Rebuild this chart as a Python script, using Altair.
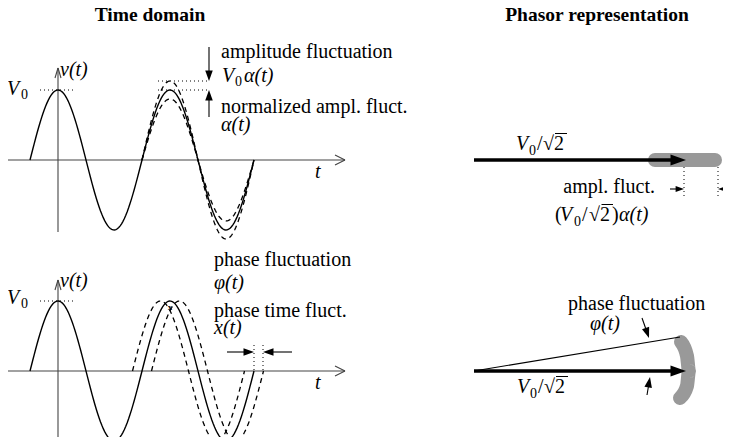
import altair as alt
import numpy as np
import pandas as pd

W, H = 715, 429
X0, Y0 = 8, 8  # page margin: data given in page-pixel units

# ---- sine curves: (name, style, axis_y, phase_start_x, period, amplitude, x_from, x_to)
curve_name = ["top_solid", "top_dash_hi", "top_dash_lo", "bot_solid", "bot_dash_l", "bot_dash_r"]
curve_style = ["solid", "dash", "dash", "solid", "dash", "dash"]
curve_axis_y = [160, 160, 160, 371, 371, 371]
curve_x0 = [30, 30, 30, 30, 20.5, 39.5]
curve_period = [112, 112, 112, 112, 112, 112]
curve_amp = [70, 79, 61, 70, 70, 70]
curve_from = [30, 142, 142, 30, 132.5, 151.5]
curve_to = [254, 254, 254, 254, 244.5, 263.5]

rows = []
for n, s, ay, x0, p, a, xa, xb in zip(curve_name, curve_style, curve_axis_y, curve_x0,
                                        curve_period, curve_amp, curve_from, curve_to):
    xs = np.linspace(xa, xb, 160)
    for i, xv in enumerate(xs):
        rows.append({"id": n, "style": s, "i": i, "x": xv,
                     "y": ay - a * np.sin(2 * np.pi * (xv - x0) / p)})
curves = pd.DataFrame(rows)

# ---- straight segments: kind, x, y, x2, y2
seg_kind = (["axis"] * 12 + ["dot"] * 8 + ["thin"] * 9 + ["thick"] * 2)
seg_x = [7, 58, 335, 335, 55, 61, 7, 58, 335, 335, 55, 61,
         40, 158, 158, 40, 254, 263, 684, 718,
         209, 209, 227, 292, 670, 723, 642, 647, 474,
         474, 474]
seg_y = [160, 68, 155, 165, 78, 78, 371, 280, 366, 376, 290, 290,
         90, 81, 90, 301, 345, 345, 167, 167,
         47, 117, 352, 352, 189, 189, 318, 395, 371,
         160, 371]
seg_x2 = [345, 58, 345, 345, 58, 58, 345, 58, 345, 345, 58, 58,
          73, 209, 209, 73, 254, 263, 684, 718,
          209, 209, 250, 267, 680, 722, 648, 649.5, 680,
          676, 676]
seg_y2 = [160, 232, 160, 160, 68, 68, 371, 441, 371, 371, 280, 280,
          90, 81, 90, 301, 371, 371, 197, 197,
          78, 93, 352, 352, 189, 189, 335, 380, 337,
          160, 371]
segs = pd.DataFrame({"kind": seg_kind, "x": seg_x, "y": seg_y, "x2": seg_x2, "y2": seg_y2})

# ---- radical overbars
bar_x = [555, 601.5, 556]
bar_x2 = [567, 613, 568]
bar_y = [133.5, 204.5, 376.5]
bars = pd.DataFrame({"x": bar_x, "x2": bar_x2, "y": bar_y})

# ---- grey fluctuation bands (paths)
band_id = ["amp"] * 2 + ["phase"] * 5
band_i = [0, 1, 0, 1, 2, 3, 4]
band_x = [655, 715, 681, 687, 689, 687, 680]
band_y = [160, 160, 342, 356, 371, 386, 398]
bands = pd.DataFrame({"id": band_id, "i": band_i, "x": band_x, "y": band_y})

# ---- arrow heads: tip x, tip y, direction angle (deg, clockwise from right), size
head_x = [209, 209, 254, 263, 684, 718, 686, 686, 649, 650]
head_y = [81, 90, 352, 352, 189, 189, 160, 371, 338, 377]
head_ang = [90, 270, 0, 180, 0, 180, 0, 0, 71, 280]
head_size = [110, 110, 110, 110, 70, 70, 240, 240, 110, 110]
heads = pd.DataFrame({"x": head_x, "y": head_y, "angle": head_ang, "size": head_size})

# ---- texts: kind (bold/roman/italic/sub), x, y(baseline), text, align
txt_kind = ["bold", "bold",
            "roman", "roman", "roman", "roman", "roman", "roman",
            "italic", "sub", "italic", "italic", "italic", "sub", "italic", "italic",
            "italic", "sub", "italic", "italic", "italic", "italic",
            "italic", "sub", "roman", "roman",
            "roman", "italic", "sub", "roman", "roman", "roman", "italic",
            "italic", "italic", "sub", "roman", "roman", "tiny"]
txt_x = [150, 597,
         221, 221, 214, 214, 655, 568,
         7, 21, 60, 315, 222, 235, 244, 221,
         7, 21, 60, 315, 214, 214,
         516, 529, 537, 543,
         555, 560, 574, 582, 589, 612, 619,
         590, 517, 530, 538, 544, 170]
txt_y = [21, 21,
         58, 113, 266, 317, 193, 310,
         95, 99, 76, 178, 82, 86, 82, 131,
         304, 308, 287, 389, 289, 334,
         150, 155, 150, 150,
         221, 221, 226, 221, 221, 221, 221,
         330, 393, 398, 393, 393, 310]
txt_str = ["Time domain", "Phasor representation",
           "amplitude fluctuation", "normalized ampl. fluct.", "phase fluctuation",
           "phase time fluct.", "ampl. fluct.", "phase fluctuation",
           "V", "0", "v(t)", "t", "V", "0", "α(t)", "α(t)",
           "V", "0", "v(t)", "t", "φ(t)", "x(t)",
           "V", "0", "/", "√2",
           "(", "V", "0", "/", "√2", ")", "α(t)",
           "φ(t)", "V", "0", "/", "√2", "x"]
txt_align = ["center", "center",
             "left", "left", "left", "left", "right", "left"] + ["left"] * 31
texts = pd.DataFrame({"kind": txt_kind, "x": txt_x, "y": txt_y, "text": txt_str, "align": txt_align})

xs = alt.Scale(domain=[X0, X0 + W], range=[0, W])
ys = alt.Scale(domain=[Y0, Y0 + H], range=[0, H])
X = lambda f="x": alt.X(f"{f}:Q", scale=xs, axis=None)
Y = lambda f="y": alt.Y(f"{f}:Q", scale=ys, axis=None)

base_c = alt.Chart(curves)
solid = base_c.transform_filter("datum.style == 'solid'").mark_line(
    color="black", strokeWidth=1.4).encode(X(), Y(), detail="id:N", order="i:Q")
dash = base_c.transform_filter("datum.style == 'dash'").mark_line(
    color="black", strokeWidth=1.3, strokeDash=[5, 4]).encode(X(), Y(), detail="id:N", order="i:Q")

bs = alt.Chart(segs)
def seg_layer(kind, **kw):
    return bs.transform_filter(f"datum.kind == '{kind}'").mark_rule(**kw).encode(
        X(), Y(), x2="x2:Q", y2="y2:Q")

axes_l = seg_layer("axis", color="#444", strokeWidth=1.1)
dots_l = seg_layer("dot", color="black", strokeWidth=1, strokeDash=[1, 3])
thin_l = seg_layer("thin", color="black", strokeWidth=1.1)
thick_l = seg_layer("thick", color="black", strokeWidth=3.6)

band_l = alt.Chart(bands).mark_line(color="#999999", strokeWidth=14, strokeCap="round",
                                    strokeJoin="round", interpolate="monotone").encode(
    X(), Y(), detail="id:N", order="i:Q")

bars_l = alt.Chart(bars).mark_rule(color="black", strokeWidth=1).encode(X(), Y(), x2="x2:Q")

heads_l = alt.Chart(heads).mark_point(
    shape="M0,0L-2,-0.72L-2,0.72Z", filled=True, color="black", opacity=1, strokeWidth=0
).encode(X(), Y(), angle=alt.Angle("angle:Q", scale=None), size=alt.Size("size:Q", scale=None))

FONT = "Liberation Serif"
bt = alt.Chart(texts)
def text_layer(kind, **kw):
    return bt.transform_filter(f"datum.kind == '{kind}'").mark_text(
        font=FONT, baseline="alphabetic", color="black", **kw).encode(X(), Y(), text="text:N")

t_bold = bt.transform_filter("datum.kind == 'bold'").mark_text(
    font=FONT, baseline="alphabetic", fontWeight="bold", fontSize=19.5, align="center",
    color="black").encode(X(), Y(), text="text:N")
t_roman_l = bt.transform_filter("datum.kind == 'roman' && datum.align == 'left'").mark_text(
    font=FONT, baseline="alphabetic", fontSize=20, align="left", color="black").encode(X(), Y(), text="text:N")
t_roman_r = bt.transform_filter("datum.kind == 'roman' && datum.align == 'right'").mark_text(
    font=FONT, baseline="alphabetic", fontSize=20, align="right", color="black").encode(X(), Y(), text="text:N")
t_ital = text_layer("italic", fontSize=20, fontStyle="italic", align="left")
t_sub = text_layer("sub", fontSize=14, align="left")
t_tiny = text_layer("tiny", fontSize=9, fontWeight="bold", align="center")

chart = alt.layer(
    band_l, axes_l, dots_l, solid, dash, thin_l, thick_l, heads_l, bars_l,
    t_bold, t_roman_l, t_roman_r, t_ital, t_sub, t_tiny
).properties(width=W, height=H, padding=0, autosize="none").configure_view(stroke=None)

chart.save("out.html", embed_options={"renderer": "svg", "actions": False})
